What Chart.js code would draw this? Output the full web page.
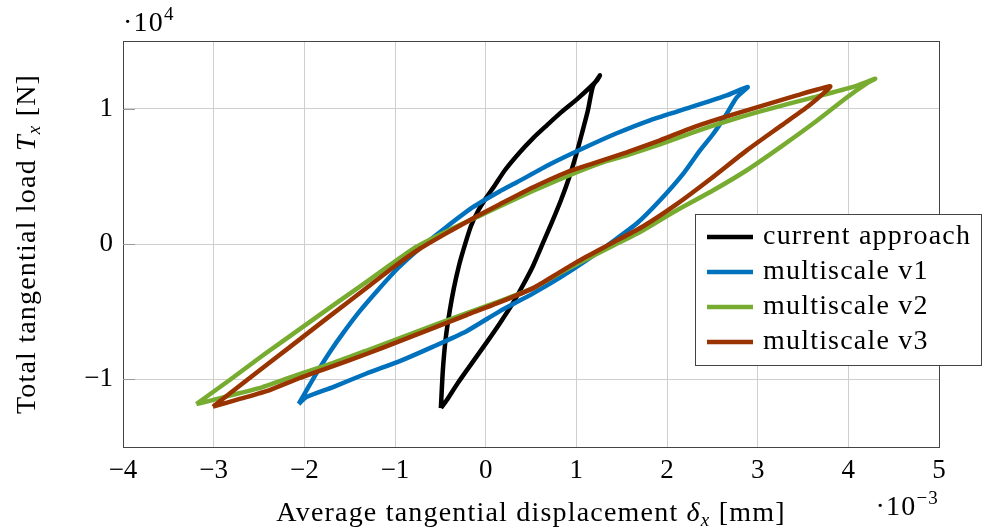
<!DOCTYPE html>
<html>
<head>
<meta charset="utf-8">
<script src="https://cdn.jsdelivr.net/npm/chart.js@4.4.1/dist/chart.umd.min.js"></script>
<style>
  html, body { margin: 0; padding: 0; background: #fff; }
  canvas { display: block; }
</style>
</head>
<body>
<canvas id="chart" width="982" height="528"></canvas>
<script>
// x in 1e-3 mm, y in 1e4 N (same units as the tick labels)
const xTicks = [-4, -3, -2, -1, 0, 1, 2, 3, 4, 5];
const yTicks = [-1, 0, 1];
const seriesNames = ['current approach', 'multiscale v1', 'multiscale v2', 'multiscale v3'];
const seriesColors = ['#000000', '#0072BD', '#77AC30', '#993300'];

const currentX = [-0.494, -0.472, -0.439, -0.395, -0.351, -0.296, -0.230, -0.163, -0.086, 0.002,
  0.102, 0.212, 0.377, 0.521, 0.675, 0.819, 1.018, 1.228, 1.260,
  1.183, 1.128, 1.062, 0.996, 0.918, 0.830, 0.731, 0.631, 0.521, 0.411, 0.300, 0.157, 0.013,
  -0.152, -0.307, -0.428, -0.494];
const currentY = [-1.212, -0.931, -0.688, -0.489, -0.327, -0.164, -0.009, 0.131, 0.242, 0.338,
  0.434, 0.545, 0.678, 0.781, 0.877, 0.965, 1.076, 1.209, 1.246,
  1.165, 0.988, 0.818, 0.655, 0.486, 0.323, 0.161, 0.006, -0.164, -0.305, -0.437, -0.585, -0.725,
  -0.880, -1.027, -1.153, -1.212];

const v1X = [-2.062, -1.962, -1.852, -1.720, -1.565, -1.389, -1.190, -0.969, -0.726, -0.450,
  -0.141, 0.157, 0.344, 0.709, 1.076, 1.445, 1.812, 2.290, 2.659, 2.890,
  2.769, 2.659, 2.511, 2.364, 2.180, 1.923, 1.666, 1.371, 1.114, 0.819,
  0.524, 0.157, -0.211, -0.579, -0.947, -1.315, -1.683, -1.977, -2.062];
const v1Y = [-1.182, -1.065, -0.939, -0.799, -0.651, -0.496, -0.341, -0.179, -0.031, 0.117,
  0.272, 0.390, 0.456, 0.589, 0.707, 0.818, 0.914, 1.017, 1.098, 1.160,
  1.083, 0.963, 0.815, 0.692, 0.520, 0.323, 0.151, 0.004, -0.120, -0.249,
  -0.365, -0.496, -0.644, -0.758, -0.865, -0.957, -1.057, -1.131, -1.182];

const v2X = [-3.191, -2.823, -2.437, -2.051, -1.664, -1.333, -1.057, -0.763, -0.395, -0.064, 0.157, 0.524,
  0.893, 1.260, 1.555, 1.923, 2.290, 2.659, 2.990, 3.358, 3.615, 4.053, 4.296,
  4.204, 3.983, 3.615, 3.247, 2.880, 2.511, 2.107, 1.738, 1.371, 1.003, 0.819, 0.524,
  0.157, -0.208, -0.583, -0.947, -1.311, -1.687, -2.051, -2.459, -2.823, -3.099, -3.191];
const v2Y = [-1.182, -1.005, -0.813, -0.629, -0.444, -0.289, -0.156, -0.020, 0.106, 0.209, 0.279, 0.393,
  0.500, 0.596, 0.655, 0.737, 0.825, 0.907, 0.973, 1.039, 1.083, 1.161, 1.221,
  1.187, 1.083, 0.892, 0.714, 0.545, 0.397, 0.249, 0.102, -0.024, -0.149, -0.215, -0.326,
  -0.422, -0.511, -0.603, -0.695, -0.787, -0.880, -0.961, -1.057, -1.120, -1.168, -1.182];

const v3X = [-3.008, -2.603, -2.161, -1.720, -1.333, -1.002, -0.726, -0.395, -0.097, 0.157,
  0.524, 0.893, 1.187, 1.555, 1.923, 2.290, 2.659, 2.990, 3.432, 3.800,
  3.763, 3.542, 3.247, 2.880, 2.475, 2.107, 1.738, 1.371, 1.003, 0.819, 0.524,
  0.157, -0.211, -0.579, -0.947, -1.315, -1.683, -2.051, -2.382, -2.713, -3.008];
const v3Y = [-1.202, -0.990, -0.762, -0.533, -0.334, -0.164, -0.035, 0.094, 0.205, 0.294,
  0.419, 0.530, 0.596, 0.677, 0.766, 0.862, 0.943, 1.010, 1.098, 1.165,
  1.135, 1.010, 0.869, 0.692, 0.478, 0.294, 0.131, -0.001, -0.134, -0.208, -0.326,
  -0.430, -0.525, -0.621, -0.717, -0.813, -0.902, -0.990, -1.079, -1.145, -1.202];

const FONT = '"Liberation Serif", "Times New Roman", serif';
const SPACING = '1.2px';

function pts(xs, ys) {
  return xs.map((x, i) => ({ x: x, y: ys[i] }));
}

function fmt(v) {
  return v < 0 ? '\u2212' + Math.abs(v) : String(v);
}

// draws a run of text pieces with different fonts / offsets
function drawRich(ctx, parts, x, y, align) {
  ctx.letterSpacing = SPACING;
  let w = 0;
  parts.forEach(p => { ctx.font = p.font; w += ctx.measureText(p.text).width; });
  let cx = align === 'center' ? x - w / 2 : (align === 'right' ? x - w : x);
  ctx.textAlign = 'left';
  ctx.textBaseline = 'alphabetic';
  parts.forEach(p => {
    ctx.font = p.font;
    ctx.fillText(p.text, cx, y + (p.dy || 0));
    cx += ctx.measureText(p.text).width;
  });
}

const overlay = {
  id: 'overlay',
  afterDraw(chart) {
    const ctx = chart.ctx;
    const a = chart.chartArea;
    const ys = chart.scales.y;
    const norm = '28px ' + FONT;
    const ital = 'italic 28px ' + FONT;
    const small = '19px ' + FONT;
    const smallIt = 'italic 19px ' + FONT;
    ctx.save();

    // frame
    ctx.strokeStyle = '#444';
    ctx.lineWidth = 1;
    ctx.strokeRect(Math.round(a.left) + 0.5, Math.round(a.top) + 0.5,
      Math.round(a.right - a.left), Math.round(a.bottom - a.top));

    // inner y ticks
    ctx.strokeStyle = '#999';
    yTicks.forEach(v => {
      const py = Math.round(ys.getPixelForValue(v)) + 0.5;
      ctx.beginPath();
      ctx.moveTo(a.left, py);
      ctx.lineTo(a.left + 12, py);
      ctx.stroke();
    });

    ctx.fillStyle = '#000';
    // scale multipliers
    drawRich(ctx, [{ text: '\u00b710', font: norm }, { text: '4', font: small, dy: -11 }], a.left, 31, 'left');
    drawRich(ctx, [{ text: '\u00b710', font: norm }, { text: '\u22123', font: small, dy: -11 }], a.right, 515, 'right');

    // axis titles
    drawRich(ctx, [
      { text: 'Average tangential displacement ', font: norm },
      { text: '\u03b4', font: ital },
      { text: 'x', font: smallIt, dy: 5 },
      { text: ' [mm]', font: norm }
    ], (a.left + a.right) / 2, 521, 'center');

    ctx.save();
    ctx.translate(35, (a.top + a.bottom) / 2);
    ctx.rotate(-Math.PI / 2);
    drawRich(ctx, [
      { text: 'Total tangential load ', font: norm },
      { text: 'T', font: ital },
      { text: 'x', font: smallIt, dy: 5 },
      { text: ' [N]', font: norm }
    ], 0, 0, 'center');
    ctx.restore();

    // legend
    const lx = 695, ly = 214, lw = 286, lh = 151;
    ctx.fillStyle = '#fff';
    ctx.fillRect(lx, ly, lw, lh);
    ctx.strokeStyle = '#444';
    ctx.lineWidth = 1;
    ctx.strokeRect(lx + 0.5, ly + 0.5, lw, lh);
    seriesNames.forEach((name, i) => {
      const ry = 237 + i * 35;
      ctx.strokeStyle = seriesColors[i];
      ctx.lineWidth = 4.5;
      ctx.beginPath();
      ctx.moveTo(707, ry);
      ctx.lineTo(753, ry);
      ctx.stroke();
      ctx.fillStyle = '#000';
      ctx.font = norm;
      ctx.letterSpacing = SPACING;
      ctx.textAlign = 'left';
      ctx.textBaseline = 'middle';
      ctx.fillText(name, 763, ry);
    });
    ctx.restore();
  }
};

const allX = [currentX, v1X, v2X, v3X];
const allY = [currentY, v1Y, v2Y, v3Y];

const datasets = seriesNames.map((name, i) => ({
  label: name,
  data: pts(allX[i], allY[i]),
  borderColor: seriesColors[i],
  backgroundColor: seriesColors[i],
  borderWidth: 4.5,
  borderJoinStyle: 'miter',
  pointRadius: 0,
  showLine: true,
  tension: 0.2,
  fill: false,
  order: 4 - i
}));

new Chart(document.getElementById('chart'), {
  type: 'scatter',
  data: { datasets: datasets },
  options: {
    responsive: false,
    animation: false,
    devicePixelRatio: 1,
    layout: { padding: { left: 0, right: 43, top: 41, bottom: 0 } },
    plugins: {
      legend: { display: false },
      tooltip: { enabled: false }
    },
    scales: {
      x: {
        type: 'linear',
        min: -4,
        max: 5,
        afterBuildTicks: s => { s.ticks = xTicks.map(v => ({ value: v })); },
        afterFit: s => { s.height = 81; },
        grid: { color: '#cfcfcf', lineWidth: 1, drawTicks: false },
        border: { display: false },
        ticks: {
          padding: 8,
          color: '#000',
          font: { family: FONT, size: 27 },
          callback: v => fmt(v)
        }
      },
      y: {
        type: 'linear',
        min: -1.5,
        max: 1.5,
        afterBuildTicks: s => { s.ticks = yTicks.map(v => ({ value: v })); },
        afterFit: s => { s.width = 123; },
        grid: { color: '#cfcfcf', lineWidth: 1, drawTicks: false },
        border: { display: false },
        ticks: {
          padding: 10,
          color: '#000',
          font: { family: FONT, size: 27 },
          callback: v => fmt(v)
        }
      }
    }
  },
  plugins: [overlay]
});
</script>
</body>
</html>
